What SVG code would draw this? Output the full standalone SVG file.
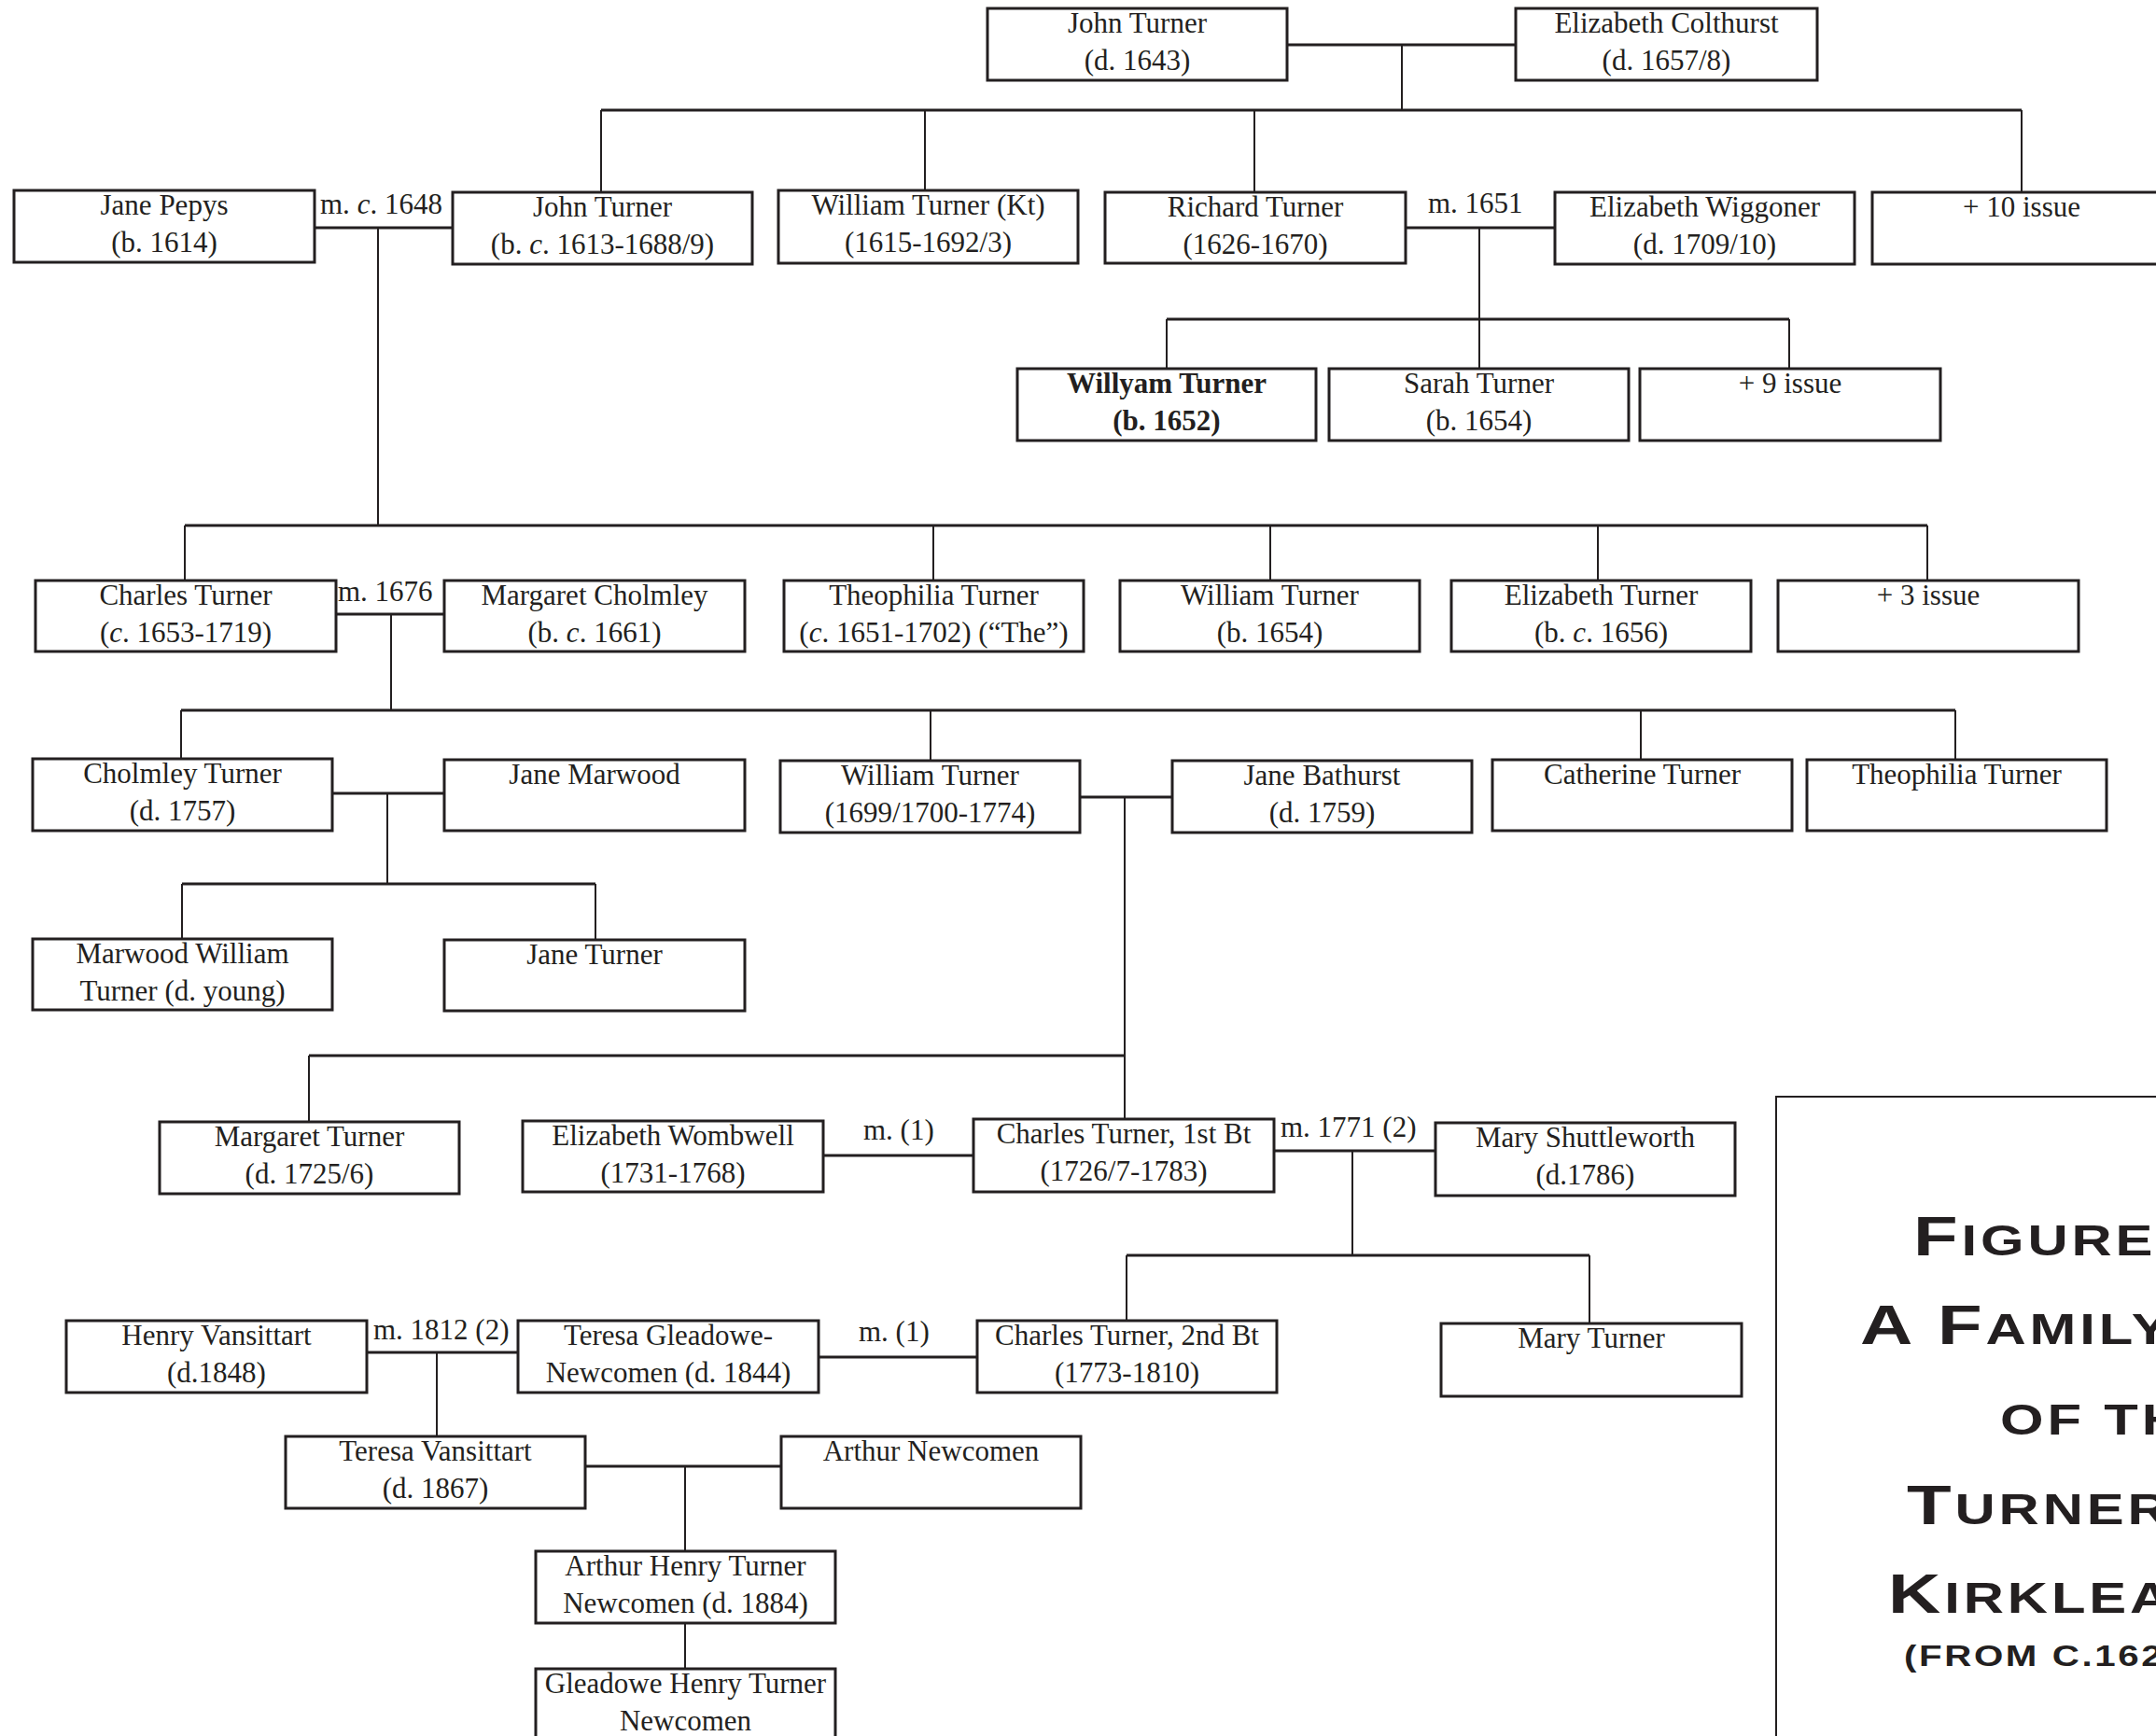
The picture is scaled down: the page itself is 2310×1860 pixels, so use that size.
<svg xmlns="http://www.w3.org/2000/svg" width="2310" height="1860" viewBox="0 0 2310 1860">
<style>
.box{fill:#fff;stroke:#231f20;stroke-width:3}
.t{font-family:"Liberation Serif","Times New Roman",serif;font-size:31px;fill:#231f20;text-anchor:middle}
.lbl{font-family:"Liberation Serif","Times New Roman",serif;font-size:31px;fill:#231f20}
.b{font-weight:bold}
.i{font-style:italic}
.h{stroke:#231f20;stroke-width:3;fill:none}
.v{stroke:#231f20;stroke-width:2;fill:none}
.title{font-family:"Liberation Sans",Arial,sans-serif;font-weight:bold;fill:#231f20;letter-spacing:3px}
</style>
<rect width="2310" height="1860" fill="#fff"/>
<g id="connectors">
<path class="h" d="M1379 48H1624 M644 118H2166 M337 244H485 M1506 244H1666 M1250 342H1917 M198 563H2065 M360 658H476 M194 761H2095 M356 850H476 M1157 854H1256 M195 947H638 M331 1131H1205 M882 1238H1043 M1365 1233H1538 M1207 1345H1703 M393 1449H555 M877 1454H1047 M627 1571H837"/>
<path class="v" d="M1502 48V118 M644 118V206 M991 118V204 M1344 118V206 M2166 118V206 M405 244V563 M1585 244V395 M1250 342V395 M1917 342V395 M198 563V622 M1000 563V622 M1361 563V622 M1712 563V622 M2065 563V622 M419 658V761 M194 761V813 M997 761V815 M1758 761V814 M2095 761V814 M415 850V947 M195 947V1006 M638 947V1007 M1205 854V1199 M331 1131V1202 M1449 1233V1345 M1207 1345V1415 M1703 1345V1418 M468 1449V1539 M734 1571V1662 M734 1739V1788"/>
<text class="lbl" x="343" y="229">m. <tspan class="i">c</tspan>. 1648</text>
<text class="lbl" x="1530" y="228">m. 1651</text>
<text class="lbl" x="362" y="644">m. 1676</text>
<text class="lbl" x="925" y="1221">m. (1)</text>
<text class="lbl" x="1372" y="1218">m. 1771 (2)</text>
<text class="lbl" x="400" y="1435">m. 1812 (2)</text>
<text class="lbl" x="920" y="1437">m. (1)</text>
</g>
<g id="john-turner-1643"><rect class="box" x="1058" y="9" width="321" height="77"/><text class="t" x="1218.5" y="35">John Turner</text><text class="t" x="1218.5" y="75">(d. 1643)</text></g>
<g id="elizabeth-colthurst"><rect class="box" x="1624" y="9" width="323" height="77"/><text class="t" x="1785.5" y="35">Elizabeth Colthurst</text><text class="t" x="1785.5" y="75">(d. 1657/8)</text></g>
<g id="jane-pepys"><rect class="box" x="15" y="204" width="322" height="77"/><text class="t" x="176" y="230">Jane Pepys</text><text class="t" x="176" y="270">(b. 1614)</text></g>
<g id="john-turner"><rect class="box" x="485" y="206" width="321" height="77"/><text class="t" x="645.5" y="232">John Turner</text><text class="t" x="645.5" y="272">(b. <tspan class="i">c</tspan>. 1613-1688/9)</text></g>
<g id="william-turner-kt"><rect class="box" x="834" y="204" width="321" height="78"/><text class="t" x="994.5" y="230">William Turner (Kt)</text><text class="t" x="994.5" y="270">(1615-1692/3)</text></g>
<g id="richard-turner"><rect class="box" x="1184" y="206" width="322" height="76"/><text class="t" x="1345" y="232">Richard Turner</text><text class="t" x="1345" y="272">(1626-1670)</text></g>
<g id="elizabeth-wiggoner"><rect class="box" x="1666" y="206" width="321" height="77"/><text class="t" x="1826.5" y="232">Elizabeth Wiggoner</text><text class="t" x="1826.5" y="272">(d. 1709/10)</text></g>
<g id="issue-10"><rect class="box" x="2006" y="206" width="330" height="77"/><text class="t" x="2166" y="232">+ 10 issue</text></g>
<g id="willyam-turner"><rect class="box" x="1090" y="395" width="320" height="77"/><text class="t b" x="1250" y="421">Willyam Turner</text><text class="t b" x="1250" y="461">(b. 1652)</text></g>
<g id="sarah-turner"><rect class="box" x="1424" y="395" width="321" height="77"/><text class="t" x="1584.5" y="421">Sarah Turner</text><text class="t" x="1584.5" y="461">(b. 1654)</text></g>
<g id="issue-9"><rect class="box" x="1757" y="395" width="322" height="77"/><text class="t" x="1918" y="421">+ 9 issue</text></g>
<g id="charles-turner-1653"><rect class="box" x="38" y="622" width="322" height="76"/><text class="t" x="199" y="648">Charles Turner</text><text class="t" x="199" y="688">(<tspan class="i">c</tspan>. 1653-1719)</text></g>
<g id="margaret-cholmley"><rect class="box" x="476" y="622" width="322" height="76"/><text class="t" x="637" y="648">Margaret Cholmley</text><text class="t" x="637" y="688">(b. <tspan class="i">c</tspan>. 1661)</text></g>
<g id="theophilia-turner-1651"><rect class="box" x="840" y="622" width="321" height="76"/><text class="t" x="1000.5" y="648">Theophilia Turner</text><text class="t" x="1000.5" y="688">(<tspan class="i">c</tspan>. 1651-1702) (“The”)</text></g>
<g id="william-turner-1654"><rect class="box" x="1200" y="622" width="321" height="76"/><text class="t" x="1360.5" y="648">William Turner</text><text class="t" x="1360.5" y="688">(b. 1654)</text></g>
<g id="elizabeth-turner"><rect class="box" x="1555" y="622" width="321" height="76"/><text class="t" x="1715.5" y="648">Elizabeth Turner</text><text class="t" x="1715.5" y="688">(b. <tspan class="i">c</tspan>. 1656)</text></g>
<g id="issue-3"><rect class="box" x="1905" y="622" width="322" height="76"/><text class="t" x="2066" y="648">+ 3 issue</text></g>
<g id="cholmley-turner"><rect class="box" x="35" y="813" width="321" height="77"/><text class="t" x="195.5" y="839">Cholmley Turner</text><text class="t" x="195.5" y="879">(d. 1757)</text></g>
<g id="jane-marwood"><rect class="box" x="476" y="814" width="322" height="76"/><text class="t" x="637" y="840">Jane Marwood</text></g>
<g id="william-turner-1699"><rect class="box" x="836" y="815" width="321" height="77"/><text class="t" x="996.5" y="841">William Turner</text><text class="t" x="996.5" y="881">(1699/1700-1774)</text></g>
<g id="jane-bathurst"><rect class="box" x="1256" y="815" width="321" height="77"/><text class="t" x="1416.5" y="841">Jane Bathurst</text><text class="t" x="1416.5" y="881">(d. 1759)</text></g>
<g id="catherine-turner"><rect class="box" x="1599" y="814" width="321" height="76"/><text class="t" x="1759.5" y="840">Catherine Turner</text></g>
<g id="theophilia-turner"><rect class="box" x="1936" y="814" width="321" height="76"/><text class="t" x="2096.5" y="840">Theophilia Turner</text></g>
<g id="marwood-william-turner"><rect class="box" x="35" y="1006" width="321" height="76"/><text class="t" x="195.5" y="1032">Marwood William</text><text class="t" x="195.5" y="1072">Turner (d. young)</text></g>
<g id="jane-turner"><rect class="box" x="476" y="1007" width="322" height="76"/><text class="t" x="637" y="1033">Jane Turner</text></g>
<g id="margaret-turner"><rect class="box" x="171" y="1202" width="321" height="77"/><text class="t" x="331.5" y="1228">Margaret Turner</text><text class="t" x="331.5" y="1268">(d. 1725/6)</text></g>
<g id="elizabeth-wombwell"><rect class="box" x="560" y="1201" width="322" height="76"/><text class="t" x="721" y="1227">Elizabeth Wombwell</text><text class="t" x="721" y="1267">(1731-1768)</text></g>
<g id="charles-turner-1st-bt"><rect class="box" x="1043" y="1199" width="322" height="78"/><text class="t" x="1204" y="1225">Charles Turner, 1st Bt</text><text class="t" x="1204" y="1265">(1726/7-1783)</text></g>
<g id="mary-shuttleworth"><rect class="box" x="1538" y="1203" width="321" height="78"/><text class="t" x="1698.5" y="1229">Mary Shuttleworth</text><text class="t" x="1698.5" y="1269">(d.1786)</text></g>
<g id="henry-vansittart"><rect class="box" x="71" y="1415" width="322" height="77"/><text class="t" x="232" y="1441">Henry Vansittart</text><text class="t" x="232" y="1481">(d.1848)</text></g>
<g id="teresa-gleadowe-newcomen"><rect class="box" x="555" y="1415" width="322" height="77"/><text class="t" x="716" y="1441">Teresa Gleadowe-</text><text class="t" x="716" y="1481">Newcomen (d. 1844)</text></g>
<g id="charles-turner-2nd-bt"><rect class="box" x="1047" y="1415" width="321" height="77"/><text class="t" x="1207.5" y="1441">Charles Turner, 2nd Bt</text><text class="t" x="1207.5" y="1481">(1773-1810)</text></g>
<g id="mary-turner"><rect class="box" x="1544" y="1418" width="322" height="78"/><text class="t" x="1705" y="1444">Mary Turner</text></g>
<g id="teresa-vansittart"><rect class="box" x="306" y="1539" width="321" height="77"/><text class="t" x="466.5" y="1565">Teresa Vansittart</text><text class="t" x="466.5" y="1605">(d. 1867)</text></g>
<g id="arthur-newcomen"><rect class="box" x="837" y="1539" width="321" height="77"/><text class="t" x="997.5" y="1565">Arthur Newcomen</text></g>
<g id="arthur-henry-turner-newcomen"><rect class="box" x="574" y="1662" width="321" height="77"/><text class="t" x="734.5" y="1688">Arthur Henry Turner</text><text class="t" x="734.5" y="1728">Newcomen (d. 1884)</text></g>
<g id="gleadowe-henry-turner-newcomen"><rect class="box" x="574" y="1788" width="321" height="90"/><text class="t" x="734.5" y="1814">Gleadowe Henry Turner</text><text class="t" x="734.5" y="1854">Newcomen</text></g>
<g id="title">
<rect x="1903" y="1175" width="500" height="800" fill="none" stroke="#231f20" stroke-width="2"/>
<text class="title" transform="translate(2050 1345) scale(1.3 1)"><tspan font-size="60">F</tspan><tspan font-size="46">IGURE</tspan></text>
<text class="title" transform="translate(1993 1440) scale(1.3 1)"><tspan font-size="60">A F</tspan><tspan font-size="46">AMILY</tspan></text>
<text class="title" transform="translate(2143 1537) scale(1.3 1)" font-size="46">OF TH</text>
<text class="title" transform="translate(2043 1633) scale(1.3 1)"><tspan font-size="60">T</tspan><tspan font-size="46">URNER</tspan></text>
<text class="title" transform="translate(2023 1728) scale(1.3 1)"><tspan font-size="60">K</tspan><tspan font-size="46">IRKLEA</tspan></text>
<text class="title" transform="translate(2040 1785) scale(1.3 1)" font-size="31" style="letter-spacing:2px">(FROM C.162</text>
</g>
</svg>
